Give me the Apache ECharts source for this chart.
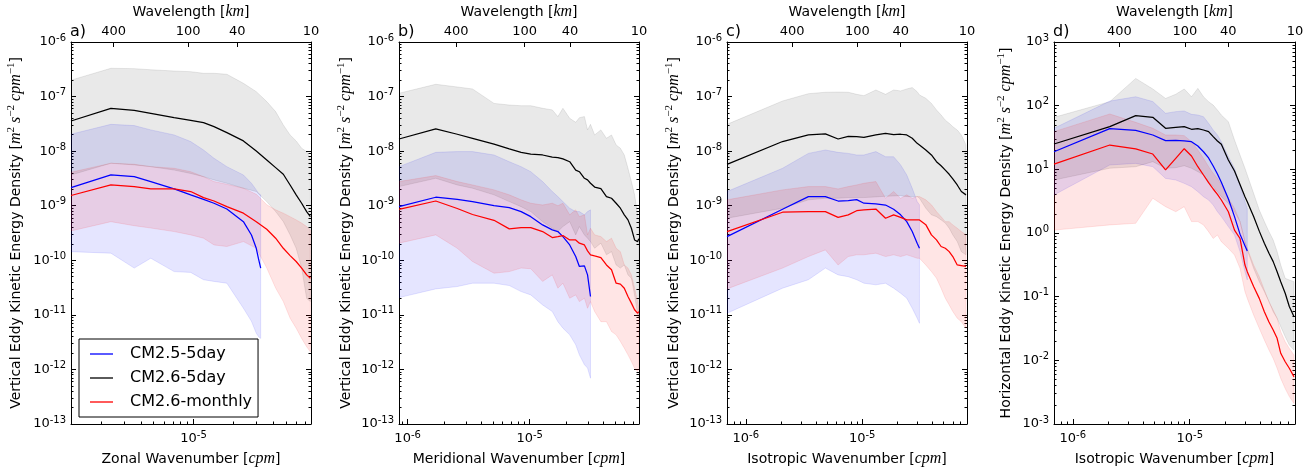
<!DOCTYPE html>
<html>
<head>
<meta charset="utf-8">
<title>Eddy kinetic energy spectra</title>
<script src="https://cdn.jsdelivr.net/npm/echarts@6/dist/echarts.min.js"></script>
<style>
  html, body { margin: 0; padding: 0; background: #fff; }
  #chart { width: 1315px; height: 472px; }
</style>
</head>
<body>
<div id="chart"></div>
<script>
// ---- data (wavenumber in cpm) ----
// a) zonal
var aX = [1.19e-6, 2.38e-6, 3.57e-6, 4.76e-6, 7.14e-6, 9.52e-6, 1.19e-5, 1.428e-5, 1.785e-5, 2.38e-5, 2.975e-5, 3.57e-5, 4.165e-5, 4.76e-5, 5.355e-5, 5.95e-5, 6.545e-5, 7.14e-5, 7.616e-5];
var aBlueX = [1.19e-6, 2.38e-6, 3.57e-6, 4.76e-6, 7.14e-6, 9.52e-6, 1.19e-5, 1.428e-5, 1.785e-5, 2.38e-5, 2.737e-5, 2.975e-5, 3.094e-5, 3.213e-5];
var aBlue = [2.15e-9, 3.66e-9, 3.42e-9, 2.77e-9, 2.03e-9, 1.58e-9, 1.31e-9, 1.11e-9, 8.7e-10, 5.1e-10, 2.9e-10, 1.66e-10, 1.06e-10, 7.2e-11];
var aBlueHi = [2.04e-8, 3.1e-8, 2.94e-8, 2.45e-8, 1.98e-8, 1.5e-8, 1.05e-8, 7.4e-9, 5.2e-9, 3.66e-9, 2.58e-9, 1.95e-9, 1.69e-9, 1.58e-9];
var aBlueLo = [1.44e-10, 1.35e-10, 7.2e-11, 1.09e-10, 6.2e-11, 6.0e-11, 4.4e-11, 4.1e-11, 3.8e-11, 1.32e-11, 7.6e-12, 4.6e-12, 4.0e-12, 3.7e-12];
var aBlack = [3.57e-8, 6.1e-8, 5.6e-8, 4.94e-8, 4.11e-8, 3.67e-8, 3.33e-8, 2.81e-8, 2.18e-8, 1.54e-8, 1.01e-8, 6.9e-9, 4.99e-9, 3.77e-9, 2.4e-9, 1.58e-9, 1.11e-9, 7.8e-10, 6.3e-10];
var aBlackHi = [2.0e-7, 3.3e-7, 3.25e-7, 3.1e-7, 2.94e-7, 2.86e-7, 2.67e-7, 2.67e-7, 2.56e-7, 1.75e-7, 1.23e-7, 8.1e-8, 5.3e-8, 3.02e-8, 1.98e-8, 1.54e-8, 1.13e-8, 9.8e-9, 7.4e-9];
var aBlackLo = [3.66e-9, 6.0e-9, 5.6e-9, 5.2e-9, 4.5e-9, 3.9e-9, 3.4e-9, 2.97e-9, 2.58e-9, 2.09e-9, 1.82e-9, 1.19e-9, 7.8e-10, 5.1e-10, 2.92e-10, 1.66e-10, 7.2e-11, 2.0e-11, 1.75e-11];
var aRed = [1.54e-9, 2.4e-9, 2.24e-9, 2.03e-9, 2.03e-9, 1.82e-9, 1.41e-9, 1.22e-9, 9.6e-10, 7.3e-10, 5.1e-10, 3.7e-10, 2.54e-10, 1.66e-10, 1.22e-10, 9.5e-11, 7.2e-11, 5.4e-11, 4.7e-11];
var aRedHi = [4.1e-9, 6.0e-9, 5.75e-9, 5.2e-9, 4.85e-9, 4.2e-9, 3.4e-9, 2.77e-9, 2.47e-9, 2.09e-9, 1.62e-9, 1.04e-9, 8.4e-10, 7.3e-10, 6.3e-10, 5.5e-10, 4.8e-10, 4.15e-10, 3.6e-10];
var aRedLo = [3.45e-10, 5.1e-10, 4.3e-10, 3.9e-10, 3.36e-10, 2.92e-10, 2.54e-10, 1.91e-10, 1.79e-10, 2.2e-10, 1.66e-10, 7.2e-11, 3.1e-11, 1.75e-11, 8.7e-12, 5.7e-12, 3.7e-12, 2.6e-12, 2.1e-12];

// b) meridional
var bX = [8.5e-7, 1.7e-6, 2.55e-6, 3.4e-6, 5.1e-6, 6.8e-6, 8.5e-6, 1.02e-5, 1.275e-5, 1.53e-5, 1.7e-5, 1.87e-5, 2.125e-5, 2.38e-5, 2.55e-5, 2.805e-5, 2.975e-5, 3.145e-5, 3.4e-5, 3.825e-5, 4.25e-5, 4.675e-5, 5.1e-5, 5.525e-5, 5.95e-5, 6.375e-5, 6.8e-5, 7.225e-5, 7.65e-5, 7.82e-5];
var bBlueX = [8.5e-7, 1.7e-6, 2.55e-6, 3.4e-6, 5.1e-6, 6.8e-6, 8.5e-6, 1.02e-5, 1.275e-5, 1.53e-5, 1.7e-5, 1.87e-5, 2.125e-5, 2.38e-5, 2.55e-5, 2.805e-5, 2.975e-5, 3.145e-5];
var bBlue = [9.6e-10, 1.43e-9, 1.31e-9, 1.19e-9, 1.0e-9, 9.2e-10, 7.8e-10, 6.3e-10, 4.45e-10, 3.6e-10, 3.36e-10, 2.72e-10, 1.91e-10, 1.17e-10, 7.7e-11, 7.9e-11, 5.4e-11, 2.17e-11];
var bBlueHi = [5.2e-9, 9.5e-9, 9.8e-9, 9.8e-9, 8.5e-9, 6.4e-9, 5.2e-9, 4.2e-9, 2.77e-9, 1.82e-9, 1.47e-9, 1.19e-9, 9.0e-10, 7.8e-10, 7.8e-10, 6.8e-10, 7.8e-10, 8.4e-10];
var bBlueLo = [2.07e-11, 2.99e-11, 3.3e-11, 3.8e-11, 3.8e-11, 3.44e-11, 2.67e-11, 2.32e-11, 1.52e-11, 1.15e-11, 7.5e-12, 5.7e-12, 4.3e-12, 2.83e-12, 1.85e-12, 1.22e-12, 1.06e-12, 6.9e-13];
var bBlack = [1.67e-8, 2.55e-8, 2.04e-8, 1.72e-8, 1.34e-8, 1.1e-8, 9.5e-9, 8.8e-9, 8.5e-9, 7.8e-9, 7.6e-9, 7.2e-9, 6.4e-9, 4.5e-9, 4.2e-9, 3.18e-9, 2.97e-9, 2.58e-9, 2.2e-9, 2.05e-9, 1.47e-9, 1.37e-9, 1.11e-9, 9.0e-10, 6.8e-10, 5.5e-10, 3.87e-10, 2.36e-10, 2.2e-10, 2.47e-10];
var bBlackHi = [1.15e-7, 1.68e-7, 1.5e-7, 1.38e-7, 7.5e-8, 7.0e-8, 6.8e-8, 6.8e-8, 6.1e-8, 5.7e-8, 4.3e-8, 6.1e-8, 4.0e-8, 3.38e-8, 4.1e-8, 4.3e-8, 2.45e-8, 3.1e-8, 1.98e-8, 2.45e-8, 1.72e-8, 1.98e-8, 1.3e-8, 1.13e-8, 8.5e-9, 4.85e-9, 2.77e-9, 1.58e-9, 6.8e-10, 5.1e-10];
var bBlackLo = [2.24e-9, 3.18e-9, 2.4e-9, 2.09e-9, 1.58e-9, 1.19e-9, 9.6e-10, 7.8e-10, 5.1e-10, 3.87e-10, 3.36e-10, 4.15e-10, 5.1e-10, 2.92e-10, 4.15e-10, 2.92e-10, 2.54e-10, 2.2e-10, 1.66e-10, 2.06e-10, 1.26e-10, 1.44e-10, 8.2e-11, 7.2e-11, 8.2e-11, 5.4e-11, 4.7e-11, 2.3e-11, 1.0e-11, 8.7e-12];
var bRed = [8.6e-10, 1.22e-9, 8.9e-10, 6.9e-10, 5.4e-10, 3.76e-10, 3.98e-10, 3.98e-10, 3.36e-10, 2.61e-10, 2.72e-10, 2.84e-10, 2.36e-10, 2.36e-10, 2.06e-10, 1.91e-10, 1.49e-10, 1.26e-10, 1.2e-10, 1.12e-10, 8.2e-11, 6.7e-11, 3.8e-11, 3.65e-11, 3.08e-11, 2.17e-11, 1.64e-11, 1.24e-11, 1.07e-11, 1.15e-11];
var bRedHi = [2.77e-9, 3.56e-9, 2.77e-9, 2.4e-9, 1.95e-9, 1.58e-9, 1.28e-9, 1.11e-9, 1.03e-9, 1.11e-9, 1.0e-9, 1.11e-9, 6.8e-10, 8.4e-10, 6.3e-10, 6.8e-10, 2.92e-10, 3.87e-10, 2.92e-10, 2.72e-10, 2.2e-10, 2.54e-10, 1.66e-10, 1.44e-10, 8.2e-11, 7.2e-11, 5.4e-11, 3.08e-11, 1.75e-11, 1.32e-11];
var bRedLo = [2.06e-10, 2.92e-10, 1.66e-10, 9.5e-11, 5.8e-11, 6.2e-11, 7.2e-11, 7.0e-11, 4.1e-11, 5.4e-11, 3.08e-11, 3.8e-11, 2.02e-11, 2.32e-11, 1.75e-11, 2.02e-11, 1.32e-11, 1.75e-11, 1.15e-11, 7.5e-12, 7.5e-12, 4.95e-12, 4.3e-12, 3.25e-12, 2.45e-12, 1.85e-12, 1.4e-12, 1.05e-12, 9.2e-13, 1.05e-12];

// c) isotropic, vertical EKE
var cX = [6.9e-7, 2.07e-6, 3.45e-6, 4.83e-6, 6.21e-6, 7.59e-6, 8.97e-6, 1.035e-5, 1.311e-5, 1.587e-5, 1.863e-5, 2.139e-5, 2.415e-5, 2.691e-5, 2.967e-5, 3.105e-5, 3.519e-5, 3.933e-5, 4.347e-5, 4.761e-5, 5.175e-5, 5.589e-5, 6.003e-5, 6.555e-5, 7.107e-5, 7.797e-5];
var cBlueX = [6.9e-7, 2.07e-6, 3.45e-6, 4.83e-6, 6.21e-6, 7.59e-6, 8.97e-6, 1.035e-5, 1.311e-5, 1.587e-5, 1.863e-5, 2.139e-5, 2.415e-5, 2.691e-5, 2.967e-5, 3.105e-5];
var cBlue = [2.72e-10, 8.6e-10, 1.47e-9, 1.47e-9, 1.22e-9, 1.24e-9, 1.29e-9, 1.11e-9, 1.08e-9, 1.03e-9, 8.6e-10, 6.8e-10, 5.1e-10, 3.36e-10, 2.06e-10, 1.66e-10];
var cBlueHi = [1.82e-9, 4.85e-9, 9.1e-9, 1.05e-8, 9.5e-9, 9.1e-9, 8.5e-9, 8.5e-9, 9.8e-9, 7.9e-9, 7.9e-9, 5.6e-9, 3.66e-9, 2.09e-9, 1.19e-9, 1.04e-9];
var cBlueLo = [1.07e-11, 3.08e-11, 4.4e-11, 7.2e-11, 5.4e-11, 5.0e-11, 4.4e-11, 3.8e-11, 3.55e-11, 3.8e-11, 3.08e-11, 2.49e-11, 2.02e-11, 1.32e-11, 8.7e-12, 7.0e-12];
var cBlack = [5.74e-9, 1.5e-8, 1.98e-8, 2.07e-8, 1.67e-8, 1.87e-8, 1.84e-8, 1.79e-8, 1.98e-8, 2.12e-8, 2.01e-8, 2.04e-8, 1.98e-8, 1.72e-8, 1.39e-8, 1.3e-8, 1.05e-8, 8.5e-9, 6.4e-9, 5.4e-9, 4.5e-9, 3.77e-9, 3.1e-9, 2.4e-9, 1.82e-9, 1.58e-9];
var cBlackHi = [3.1e-8, 8.3e-8, 1.13e-7, 1.2e-7, 1.21e-7, 1.2e-7, 1.1e-7, 1.04e-7, 1.32e-7, 1.1e-7, 1.32e-7, 1.27e-7, 1.38e-7, 1.46e-7, 1.23e-7, 1.07e-7, 9.3e-8, 7.5e-8, 5.7e-8, 4.6e-8, 3.7e-8, 3.24e-8, 2.81e-8, 2.44e-8, 1.98e-8, 1.3e-8];
var cBlackLo = [5.9e-10, 9.0e-10, 1.28e-9, 1.37e-9, 1.37e-9, 1.41e-9, 1.41e-9, 1.41e-9, 1.45e-9, 1.49e-9, 1.51e-9, 1.53e-9, 1.47e-9, 1.47e-9, 1.47e-9, 1.37e-9, 9.0e-10, 6.8e-10, 6.3e-10, 5.5e-10, 4.8e-10, 3.87e-10, 2.92e-10, 2.2e-10, 1.44e-10, 1.26e-10];
var cRed = [3.36e-10, 7.6e-10, 7.8e-10, 7.8e-10, 6.1e-10, 6.8e-10, 8.1e-10, 8.4e-10, 8.7e-10, 5.9e-10, 6.8e-10, 6.1e-10, 5.5e-10, 5.5e-10, 5.5e-10, 5.5e-10, 4.5e-10, 2.92e-10, 2.37e-10, 1.79e-10, 1.66e-10, 1.44e-10, 1.17e-10, 8.2e-11, 8.0e-11, 7.7e-11];
var cRedHi = [1.28e-9, 1.95e-9, 2.24e-9, 2.24e-9, 2.03e-9, 2.24e-9, 2.4e-9, 2.58e-9, 2.77e-9, 1.37e-9, 1.82e-9, 1.37e-9, 1.58e-9, 1.37e-9, 1.47e-9, 1.47e-9, 1.28e-9, 1.04e-9, 7.8e-10, 6.3e-10, 5.1e-10, 5.1e-10, 4.45e-10, 3.87e-10, 3.36e-10, 2.92e-10];
var cRedLo = [2.99e-11, 7.2e-11, 1.17e-10, 1.55e-10, 8.2e-11, 1.17e-10, 1.26e-10, 1.26e-10, 1.35e-10, 1.17e-10, 1.26e-10, 1.17e-10, 1.26e-10, 1.17e-10, 1.09e-10, 1.09e-10, 8.2e-11, 6.2e-11, 4.7e-11, 3.08e-11, 2.02e-11, 1.52e-11, 1.15e-11, 8.7e-12, 7.5e-12, 5.7e-12];

// d) isotropic, horizontal EKE
var dX = [6.9e-7, 2.07e-6, 3.45e-6, 4.83e-6, 6.21e-6, 7.59e-6, 8.97e-6, 1.035e-5, 1.173e-5, 1.311e-5, 1.449e-5, 1.587e-5, 1.725e-5, 1.863e-5, 2.139e-5, 2.415e-5, 2.691e-5, 2.967e-5, 3.105e-5, 3.519e-5, 3.933e-5, 4.347e-5, 4.761e-5, 5.175e-5, 5.589e-5, 6.003e-5, 6.555e-5, 7.107e-5, 7.797e-5];
var dBlueX = [6.9e-7, 2.07e-6, 3.45e-6, 4.83e-6, 6.21e-6, 7.59e-6, 8.97e-6, 1.035e-5, 1.173e-5, 1.311e-5, 1.449e-5, 1.587e-5, 1.725e-5, 1.863e-5, 2.139e-5, 2.415e-5, 2.691e-5, 2.967e-5, 3.105e-5];
var dBlue = [18.9, 43.5, 41.0, 34.6, 28.2, 28.5, 27.9, 27.2, 23.2, 18.9, 15.1, 11.3, 8.45, 6.25, 3.46, 1.81, 0.96, 0.63, 0.52];
var dBlueHi = [44.1, 118, 138, 116, 75.9, 80.6, 82.5, 73.1, 71.3, 67.1, 52.8, 41.5, 34.6, 27.2, 15.8, 10.4, 5.67, 3.1, 2.44];
var dBlueLo = [3.96, 11.7, 12.4, 11.0, 7.2, 6.8, 6.02, 5.34, 4.46, 3.72, 3.3, 2.75, 2.16, 1.81, 1.26, 0.93, 0.51, 0.247, 0.183];
var dBlack = [25.0, 46.8, 69.6, 65.6, 44.1, 45.6, 46.8, 42.6, 43.5, 41.5, 39.1, 32.6, 27.9, 24.7, 14.0, 9.4, 5.8, 3.72, 3.1, 1.81, 1.07, 0.69, 0.48, 0.355, 0.247, 0.172, 0.113, 0.07, 0.0485];
var dBlackHi = [65.6, 115.6, 268, 183, 130, 151, 183, 138, 187, 138, 115.6, 102, 85.5, 71.3, 56.1, 28.9, 16.8, 10.4, 8.15, 4.2, 2.3, 1.51, 1.05, 0.776, 0.51, 0.314, 0.194, 0.183, 0.172];
var dBlackLo = [6.79, 10.4, 11.0, 13.2, 10.4, 10.6, 11.4, 10.4, 9.2, 8.15, 6.4, 5.34, 4.46, 3.72, 2.92, 2.16, 1.51, 0.731, 0.54, 0.279, 0.172, 0.12, 0.0834, 0.058, 0.0457, 0.0338, 0.0235, 0.0174, 0.0145];
var dRed = [12.1, 24.1, 20.9, 17.4, 9.8, 14.9, 21.1, 16.2, 11.0, 8.15, 6.18, 4.91, 4.05, 3.3, 2.16, 1.11, 0.82, 0.314, 0.247, 0.144, 0.094, 0.058, 0.04, 0.03, 0.0222, 0.0129, 0.0095, 0.0075, 0.0055];
var dRedHi = [39.1, 74.0, 54.7, 44.1, 34.6, 34.6, 33.8, 27.2, 20.1, 14.9, 11.0, 8.65, 7.2, 5.67, 3.51, 2.44, 1.51, 0.731, 0.574, 0.314, 0.206, 0.127, 0.0834, 0.0618, 0.0457, 0.0282, 0.0196, 0.0154, 0.0121];
var dRedLo = [1.11, 1.34, 1.42, 3.51, 2.59, 2.16, 2.59, 1.51, 1.51, 1.34, 1.05, 0.82, 0.93, 0.73, 0.574, 0.451, 0.279, 0.12, 0.094, 0.0515, 0.0318, 0.0209, 0.0145, 0.0107, 0.0075, 0.0052, 0.0036, 0.0027, 0.0021];

// top axis (wavelength in km) labels and where they sit, in cpm (null = right edge)
var wavelengthLabels = ['400', '100', '40', '10'];
var wavelengthAt = [2.5e-6, 9.1e-6, 2.14e-5, null];

var seriesNames = ['CM2.5-5day', 'CM2.6-5day', 'CM2.6-monthly'];

// ---- layout / style ----
var FONT = 'DejaVu Sans';
var MATH = 'Liberation Serif';
var TOP = 42, HEIGHT = 382;

var panels = [
  { tag: 'a)', left: 71, width: 240, xMin: 1.19e-6, xMax: 7.7e-5, yExp: [-13, -6], yGap: 45,
    xName: 'Zonal Wavenumber', yName: 'Vertical Eddy Kinetic Energy Density',
    x: aX, blueX: aBlueX, blue: [aBlue, aBlueLo, aBlueHi], black: [aBlack, aBlackLo, aBlackHi], red: [aRed, aRedLo, aRedHi] },
  { tag: 'b)', left: 399, width: 240, xMin: 8.5e-7, xMax: 7.85e-5, yExp: [-13, -6], yGap: 43,
    xName: 'Meridional Wavenumber', yName: 'Vertical Eddy Kinetic Energy Density',
    x: bX, blueX: bBlueX, blue: [bBlue, bBlueLo, bBlueHi], black: [bBlack, bBlackLo, bBlackHi], red: [bRed, bRedLo, bRedHi] },
  { tag: 'c)', left: 727, width: 240, xMin: 6.9e-7, xMax: 7.95e-5, yExp: [-13, -6], yGap: 43,
    xName: 'Isotropic Wavenumber', yName: 'Vertical Eddy Kinetic Energy Density',
    x: cX, blueX: cBlueX, blue: [cBlue, cBlueLo, cBlueHi], black: [cBlack, cBlackLo, cBlackHi], red: [cRed, cRedLo, cRedHi] },
  { tag: 'd)', left: 1054, width: 241, xMin: 6.9e-7, xMax: 7.95e-5, yExp: [-3, 3], yGap: 38,
    xName: 'Isotropic Wavenumber', yName: 'Horizontal Eddy Kinetic Energy Density',
    x: dX, blueX: dBlueX, blue: [dBlue, dBlueLo, dBlueHi], black: [dBlack, dBlackLo, dBlackHi], red: [dRed, dRedLo, dRedHi] }
];

var tickRich = {
  b: { fontFamily: FONT, fontSize: 13, color: '#000', lineHeight: 18 },
  s: { fontFamily: FONT, fontSize: 10, color: '#000', lineHeight: 8, verticalAlign: 'top' }
};
var nameRich = {
  t: { fontFamily: FONT, fontSize: 14, color: '#000', lineHeight: 20 },
  i: { fontFamily: MATH, fontStyle: 'italic', fontSize: 16, color: '#000', lineHeight: 20 },
  s: { fontFamily: MATH, fontSize: 11, color: '#000', lineHeight: 10, verticalAlign: 'top' }
};

function powLabel(v) {
  return '{b|10}{s|' + Math.round(v) + '}';
}
function majorLogs(l0, l1) {
  var out = [];
  for (var e = Math.ceil(l0 - 1e-9); e <= l1 + 1e-9; e++) out.push(e);
  return out;
}
function minorLogs(l0, l1) {
  var out = [];
  for (var e = Math.floor(l0); e <= Math.ceil(l1); e++) {
    for (var m = 2; m <= 9; m++) {
      var v = e + Math.log10(m);
      if (v > l0 && v < l1) out.push(v);
    }
  }
  return out;
}
function tickAxis(base, values, len) {
  return Object.assign({
    type: 'value', splitLine: { show: false },
    axisLine: { show: false, onZero: false },
    axisTick: { show: true, inside: true, length: len, customValues: values, lineStyle: { color: '#000', width: 1 } },
    axisLabel: { show: false }
  }, base);
}

var grids = [], xAxes = [], yAxes = [], series = [], titles = [];

// data axes (hidden, log) first so that axis index == panel index
panels.forEach(function (p, g) {
  grids.push({ left: p.left, top: TOP, width: p.width, height: HEIGHT, outerBoundsMode: 'none' });
  xAxes.push({ type: 'log', logBase: 10, gridIndex: g, min: p.xMin, max: p.xMax, show: false });
  yAxes.push({ type: 'log', logBase: 10, gridIndex: g, min: Math.pow(10, p.yExp[0]), max: Math.pow(10, p.yExp[1]), show: false });
  titles.push({ text: p.tag, left: p.left - 1, top: 24, padding: 0,
    textStyle: { fontFamily: FONT, fontSize: 16, fontWeight: 'normal', color: '#000' } });
});

// decoration axes: frame, ticks, labels, names
panels.forEach(function (p, g) {
  var lx0 = Math.log10(p.xMin), lx1 = Math.log10(p.xMax);
  var ly0 = p.yExp[0], ly1 = p.yExp[1];
  var xMaj = majorLogs(lx0, lx1), xMin = minorLogs(lx0, lx1);
  var yMaj = majorLogs(ly0, ly1), yMin = minorLogs(ly0, ly1);
  var topPos = wavelengthAt.map(function (w) { return w === null ? lx1 : Math.log10(w); });
  var xb = { gridIndex: g, min: lx0, max: lx1 };
  var yb = { gridIndex: g, min: ly0, max: ly1 };

  // bottom: frame line, major ticks, labels, name
  xAxes.push({
    type: 'value', gridIndex: g, position: 'bottom', min: lx0, max: lx1,
    splitLine: { show: false },
    axisLine: { show: true, onZero: false, lineStyle: { color: '#000', width: 1 } },
    axisTick: { show: true, inside: true, length: 5, customValues: xMaj, lineStyle: { color: '#000' } },
    axisLabel: { show: true, customValues: xMaj, margin: 6, formatter: powLabel, rich: tickRich },
    name: '{t|' + p.xName + ' [}{i|cpm}{t|]}', nameLocation: 'middle', nameGap: 25,
    nameTextStyle: { rich: nameRich }
  });
  xAxes.push(tickAxis(Object.assign({ position: 'bottom' }, xb), xMin, 2.5));
  // top: frame line, wavelength labels
  xAxes.push({
    type: 'value', gridIndex: g, position: 'top', min: lx0, max: lx1,
    splitLine: { show: false },
    axisLine: { show: true, onZero: false, lineStyle: { color: '#000', width: 1 } },
    axisTick: { show: true, inside: true, length: 5, customValues: topPos.slice(0, 3), lineStyle: { color: '#000' } },
    axisLabel: {
      show: true, customValues: topPos, margin: 4,
      fontFamily: FONT, fontSize: 13, color: '#000',
      formatter: function (v) {
        var best = 0;
        for (var i = 1; i < topPos.length; i++) {
          if (Math.abs(topPos[i] - v) < Math.abs(topPos[best] - v)) best = i;
        }
        return wavelengthLabels[best];
      }
    },
    name: '{t|Wavelength [}{i|km}{t|]}', nameLocation: 'middle', nameGap: 20,
    nameTextStyle: { rich: nameRich }
  });

  // left: frame, ticks, labels, name
  yAxes.push({
    type: 'value', gridIndex: g, position: 'left', min: ly0, max: ly1,
    splitLine: { show: false },
    axisLine: { show: true, onZero: false, lineStyle: { color: '#000', width: 1 } },
    axisTick: { show: true, inside: true, length: 5, customValues: yMaj, lineStyle: { color: '#000' } },
    axisLabel: { show: true, customValues: yMaj, margin: 5, formatter: powLabel, rich: tickRich },
    name: '{t|' + p.yName + ' [}{i|m}{s|2}{i| s}{s|\u22122}{i| cpm}{s|\u22121}{t|]}',
    nameLocation: 'middle', nameGap: p.yGap, nameRotate: 90,
    nameTextStyle: { rich: nameRich }
  });
  yAxes.push(tickAxis(Object.assign({ position: 'left' }, yb), yMin, 2.5));
  // right: frame + ticks
  yAxes.push({
    type: 'value', gridIndex: g, position: 'right', min: ly0, max: ly1,
    splitLine: { show: false },
    axisLine: { show: true, onZero: false, lineStyle: { color: '#000', width: 1 } },
    axisTick: { show: true, inside: true, length: 5, customValues: yMaj, lineStyle: { color: '#000' } },
    axisLabel: { show: false }
  });
  yAxes.push(tickAxis(Object.assign({ position: 'right' }, yb), yMin, 2.5));
});

function band(g, xs, lo, hi, color) {
  return {
    type: 'custom', xAxisIndex: g, yAxisIndex: g, silent: true, clip: true,
    encode: { x: 0, y: 1 },
    data: [[xs[0], lo[0]]],
    renderItem: function (params, api) {
      var pts = [];
      for (var i = 0; i < xs.length; i++) pts.push(api.coord([xs[i], hi[i]]));
      for (var j = xs.length - 1; j >= 0; j--) pts.push(api.coord([xs[j], lo[j]]));
      return { type: 'polygon', shape: { points: pts }, style: { fill: color, stroke: color, lineWidth: 1 } };
    }
  };
}
function line(g, name, xs, ys, color) {
  return {
    type: 'line', name: name, xAxisIndex: g, yAxisIndex: g,
    data: xs.map(function (x, i) { return [x, ys[i]]; }),
    symbol: 'none', showSymbol: false, clip: true, silent: true,
    lineStyle: { color: color, width: 1.25 }, itemStyle: { color: color }
  };
}

panels.forEach(function (p, g) {
  series.push(band(g, p.blueX, p.blue[1], p.blue[2], 'rgba(0,0,255,0.1)'));
  series.push(band(g, p.x, p.black[1], p.black[2], 'rgba(0,0,0,0.085)'));
  series.push(band(g, p.x, p.red[1], p.red[2], 'rgba(255,0,0,0.1)'));
  series.push(line(g, seriesNames[0], p.blueX, p.blue[0], '#0000ff'));
  series.push(line(g, seriesNames[1], p.x, p.black[0], '#000000'));
  series.push(line(g, seriesNames[2], p.x, p.red[0], '#ff0000'));
});

var chart = echarts.init(document.getElementById('chart'));
chart.setOption({
  animation: false,
  backgroundColor: '#fff',
  textStyle: { fontFamily: FONT },
  title: titles,
  grid: grids,
  xAxis: xAxes,
  yAxis: yAxes,
  legend: {
    data: seriesNames,
    orient: 'vertical', left: 79, top: 339,
    icon: 'rect', itemWidth: 23, itemHeight: 1.3, itemGap: 6,
    padding: [6, 6, 6, 11],
    borderColor: '#000', borderWidth: 1, borderRadius: 0, backgroundColor: '#fff',
    selectedMode: false,
    textStyle: { fontFamily: FONT, fontSize: 16, color: '#000', lineHeight: 18, padding: [0, 0, 0, 12] }
  },
  series: series
});
</script>
</body>
</html>
